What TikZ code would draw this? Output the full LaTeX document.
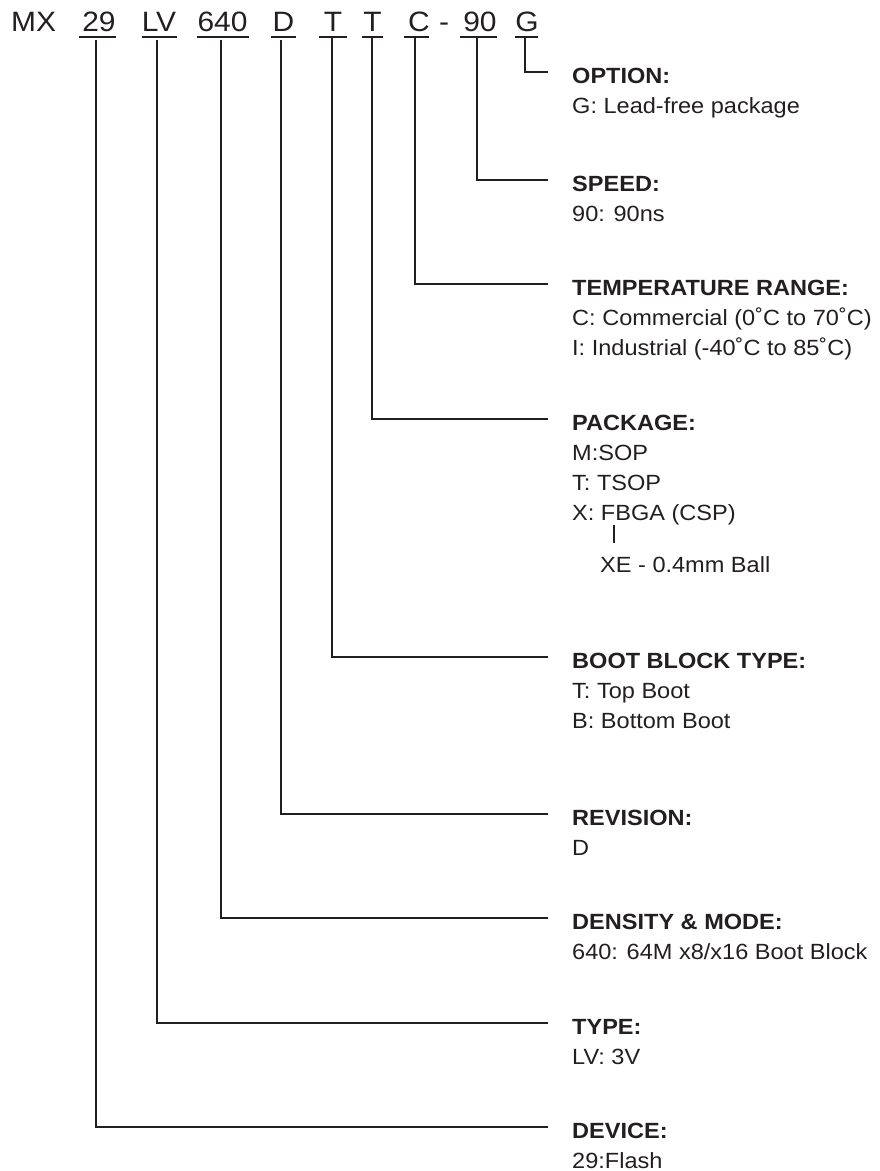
\documentclass[tikz,border=0pt]{standalone}
\usepackage{fontspec}
\setmainfont{Liberation Sans}[FakeStretch=1.07]
\usetikzlibrary{positioning}
\definecolor{ink}{HTML}{231F20}

\tikzset{
  rule/.style={draw=ink, line width=2.2pt},
  tick/.style={draw=ink, line width=1.2pt},
  code/.style={inner sep=0pt, anchor=base, text=ink, font=\fontsize{28}{30}\selectfont},
  head/.style={inner sep=0pt, anchor=base west, text=ink, font=\fontsize{22}{26}\selectfont\bfseries},
  desc/.style={inner sep=0pt, anchor=base west, text=ink, font=\fontsize{22}{26}\selectfont},
}

\begin{document}
\begin{tikzpicture}[x=1pt,y=-1pt]
    \useasboundingbox (0,0) rectangle (880,1171);
    % part number with underlines
    \node[code,anchor=base west] (cMX) at (11,31) {MX};
    \foreach \nm/\txt/\xc/\ul/\ur in {c29/29/99/79/116, cLV/LV/159/142/177,
        c640/640/222.5/197/249, cD/D/283.5/271/296, cTa/T/333/319/347,
        cTb/T/372.5/362/383, cC/C/419/404/429, c90/90/480/460/497, cG/G/527/515/538} {
        \node[code] (\nm) at (\xc,31) {\txt};
        \draw[rule] (\ul,37) -- (\ur,37);
    }
    \node[code] (cDash) at (444,31) {-};
    % where the legs start
    \coordinate (s29) at (96,40);
    \coordinate (sLV) at (157,40);
    \coordinate (s640) at (221,40);
    \coordinate (sD) at (281,40);
    \coordinate (sTa) at (332,37);
    \coordinate (sTb) at (372,37);
    \coordinate (sC) at (415,37);
    \coordinate (s90) at (477,37);
    \coordinate (sG) at (525,37);
    % descriptions
    \node[head] (hOption) at (572,83) {OPTION:};
    \node[desc] (dOption) at ([shift={(0,30)}]hOption.base west) {G: Lead-free package};
    \node[head] (hSpeed) at (572,191) {SPEED:};
    \node[desc] (dSpeed) at ([shift={(0,30)}]hSpeed.base west) {90: 90ns};
    \node[head] (hTemp) at (572,295) {TEMPERATURE RANGE:};
    \node[desc] (dTempC) at ([shift={(0,30)}]hTemp.base west) {C: Commercial (0˚C to 70˚C)};
    \node[desc] (dTempI) at ([shift={(0,30)}]dTempC.base west) {I: Industrial (-40˚C to 85˚C)};
    \node[head] (hPack) at (572,430) {PACKAGE:};
    \node[desc] (dPackM) at ([shift={(0,30)}]hPack.base west) {M:SOP};
    \node[desc] (dPackT) at ([shift={(0,30)}]dPackM.base west) {T: TSOP};
    \node[desc] (dPackX) at ([shift={(0,30)}]dPackT.base west) {X: FBGA (CSP)};
    \node[desc] (dPackXE) at ([shift={(28,52)}]dPackX.base west) {XE - 0.4mm Ball};
    \coordinate (xTop) at (614,525);
    \coordinate (xBot) at (614,543);
    \draw[tick] (xTop) -- (xBot);
    \node[head] (hBoot) at (572,668) {BOOT BLOCK TYPE:};
    \node[desc] (dBootT) at ([shift={(0,30)}]hBoot.base west) {T: Top Boot};
    \node[desc] (dBootB) at ([shift={(0,30)}]dBootT.base west) {B: Bottom Boot};
    \node[head] (hRev) at (572,825) {REVISION:};
    \node[desc] (dRev) at ([shift={(0,30)}]hRev.base west) {D};
    \node[head] (hDens) at (572,929) {DENSITY \& MODE:};
    \node[desc] (dDens) at ([shift={(0,30)}]hDens.base west) {640: 64M x8/x16 Boot Block};
    \node[head] (hType) at (572,1034) {TYPE:};
    \node[desc] (dType) at ([shift={(0,30)}]hType.base west) {LV: 3V};
    \node[head] (hDev) at (572,1138) {DEVICE:};
    \node[desc] (dDev) at ([shift={(0,30)}]hDev.base west) {29:Flash};
    % legs
    \foreach \s/\h in {sG/hOption, s90/hSpeed, sC/hTemp, sTb/hPack, sTa/hBoot,
        sD/hRev, s640/hDens, sLV/hType, s29/hDev}
        \draw[rule] (\s) |- ([shift={(-24,-11)}]\h.base west);
\end{tikzpicture}
\end{document}
